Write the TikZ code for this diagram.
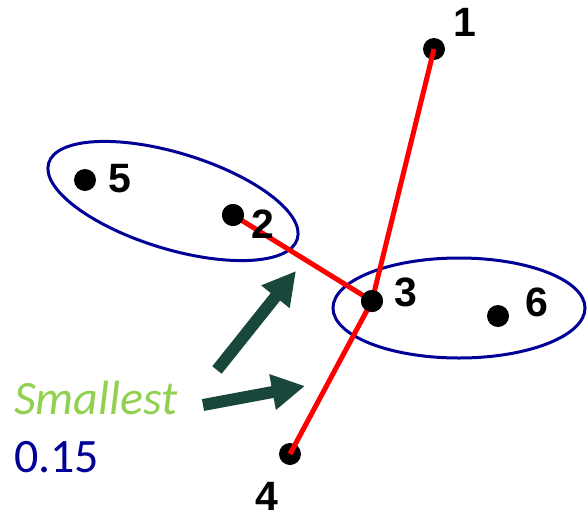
\documentclass[tikz,border=0pt]{standalone}
\usepackage{fontspec}
\setmainfont{Liberation Sans}
\newfontfamily\calib{Carlito}
\usetikzlibrary{arrows.meta}
\definecolor{dblue}{RGB}{0,0,150}
\definecolor{lgreen}{RGB}{146,208,80}
\definecolor{dgreen}{RGB}{26,71,60}
\definecolor{lred}{RGB}{255,0,0}
\begin{document}
\begin{tikzpicture}[x=1pt,y=-1pt,
  dot/.style={circle,fill=black,minimum size=22pt,inner sep=0pt},
  num/.style={inner sep=0pt,font=\fontsize{41}{48}\selectfont\bfseries},
  edge/.style={draw=lred,line width=5pt},
  ring/.style={draw=dblue,line width=3pt},
  bigarrow/.style={draw=dgreen,line width=12pt,-{Triangle[width=34pt,length=33pt]}},
  lbl/.style={inner sep=0pt,anchor=base west,font=\calib\fontsize{48}{56}\selectfont}]
\useasboundingbox (0,0) rectangle (587,520);
% ellipses
\draw[ring,rotate around={-17:(173,201)}] (173,201) ellipse [x radius=130pt, y radius=48pt];
\draw[ring] (459,308) ellipse [x radius=126pt, y radius=50pt];
% dots
\node[dot] (p1) at (434,49) {};
\node[dot] (p2) at (233,215) {};
\node[dot] (p3) at (372,301) {};
\node[dot] (p4) at (290,454) {};
\node[dot] (p5) at (85,180) {};
\node[dot] (p6) at (498,316) {};
% edges
\draw[edge] (p1.center) -- (p3.center);
\draw[edge] (p2.center) -- (p3.center);
\draw[edge] (p3.center) -- (p4.center);
\node[dot] at (p3) {};
\node[dot] at (p2) {};
% labels
\node[num] (l1) at (465,22) {1};
\node[num] (l2) at (263,224) {2};
\node[num] (l3) at (406,292) {3};
\node[num] (l4) at (267,496) {4};
\node[num] (l5) at (120,179) {5};
\node[num] (l6) at (537,302) {6};
% text
\node[lbl,text=lgreen] (sm) at (14,414) {\itshape Smallest};
\node[lbl,text=dblue] (val) at (14,472) {0.15};
% arrows
\coordinate (a1s) at (217,370);
\coordinate (a1e) at (296,271);
\coordinate (a2s) at (203,405);
\coordinate (a2e) at (305,386);
\draw[bigarrow] (a1s) -- (a1e);
\draw[bigarrow] (a2s) -- (a2e);
\end{tikzpicture}
\end{document}
